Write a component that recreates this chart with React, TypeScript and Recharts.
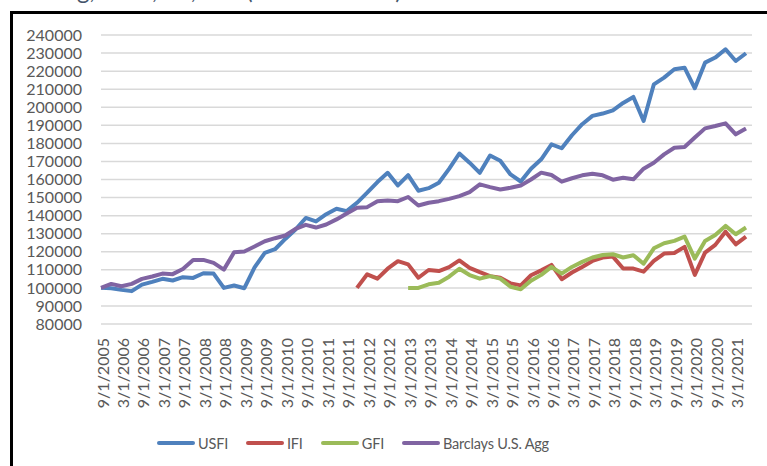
import React from 'react';
import { LineChart, Line, XAxis, YAxis, CartesianGrid } from 'recharts';

const dates = [
  '9/1/2005', '12/1/2005', '3/1/2006', '6/1/2006', '9/1/2006', '12/1/2006', '3/1/2007', '6/1/2007',
  '9/1/2007', '12/1/2007', '3/1/2008', '6/1/2008', '9/1/2008', '12/1/2008', '3/1/2009', '6/1/2009',
  '9/1/2009', '12/1/2009', '3/1/2010', '6/1/2010', '9/1/2010', '12/1/2010', '3/1/2011', '6/1/2011',
  '9/1/2011', '12/1/2011', '3/1/2012', '6/1/2012', '9/1/2012', '12/1/2012', '3/1/2013', '6/1/2013',
  '9/1/2013', '12/1/2013', '3/1/2014', '6/1/2014', '9/1/2014', '12/1/2014', '3/1/2015', '6/1/2015',
  '9/1/2015', '12/1/2015', '3/1/2016', '6/1/2016', '9/1/2016', '12/1/2016', '3/1/2017', '6/1/2017',
  '9/1/2017', '12/1/2017', '3/1/2018', '6/1/2018', '9/1/2018', '12/1/2018', '3/1/2019', '6/1/2019',
  '9/1/2019', '12/1/2019', '3/1/2020', '6/1/2020', '9/1/2020', '12/1/2020', '3/1/2021', '6/1/2021',
];

const usfi = [
  100000, 99800, 98900, 98200, 101800, 103300, 105000, 104100,
  105900, 105500, 108100, 107900, 100000, 101300, 99800, 111400,
  119400, 121400, 127100, 132300, 138700, 136800, 140800, 143800,
  142500, 147100, 152700, 158600, 163700, 156700, 162400, 153800,
  155200, 158200, 165900, 174400, 169300, 163700, 173300, 170400,
  162800, 158900, 166000, 171200, 179500, 177300, 184500, 190600,
  195200, 196500, 198300, 202400, 205700, 192400, 212700, 216400,
  221000, 221900, 210500, 224700, 227500, 232100, 225600, 229900,
];

const ifi = [
  null, null, null, null, null, null, null, null,
  null, null, null, null, null, null, null, null,
  null, null, null, null, null, null, null, null,
  null, 100000, 107500, 105100, 110600, 114800, 113000, 105600,
  109900, 109300, 111500, 115200, 111100, 108700, 106500, 105600,
  102500, 101400, 107000, 109700, 112700, 104800, 108500, 111600,
  114900, 116800, 117300, 110700, 110700, 109000, 114900, 119000,
  119300, 122700, 107200, 119500, 123800, 131100, 124100, 128400,
];

const gfi = [
  null, null, null, null, null, null, null, null,
  null, null, null, null, null, null, null, null,
  null, null, null, null, null, null, null, null,
  null, null, null, null, null, null, 100000, 100000,
  102000, 102800, 106200, 110600, 107100, 105100, 106500, 105100,
  100600, 99200, 104000, 107200, 111600, 107900, 111600, 114400,
  116800, 118200, 118600, 116800, 118100, 113400, 121900, 124700,
  126000, 128400, 116200, 126000, 129300, 134300, 129700, 133400,
];

const barclays = [
  100000, 102200, 100900, 102200, 105000, 106300, 107900, 107600,
  110500, 115500, 115500, 113800, 110100, 119700, 120100, 122900,
  125800, 127500, 129000, 132700, 134900, 133400, 135100, 137900,
  141200, 144400, 144700, 148000, 148400, 148000, 150300, 145600,
  147100, 148000, 149300, 150800, 153000, 157300, 155800, 154500,
  155400, 156700, 160000, 163800, 162500, 158800, 160700, 162300,
  163200, 162300, 159900, 161000, 160100, 166000, 169300, 173900,
  177600, 178000, 183200, 188300, 189600, 191100, 185000, 188200,
];

const yTicks = [
  80000, 90000, 100000, 110000, 120000, 130000, 140000, 150000, 160000,
  170000, 180000, 190000, 200000, 210000, 220000, 230000, 240000,
];

const series = [
  { key: 'USFI', name: 'USFI', color: '#4F81BD' },
  { key: 'IFI', name: 'IFI', color: '#C0504D' },
  { key: 'GFI', name: 'GFI', color: '#9BBB59' },
  { key: 'AGG', name: 'Barclays U.S. Agg', color: '#8064A2' },
];

const data = dates.map((d, i) => ({
  date: d,
  USFI: usfi[i],
  IFI: ifi[i],
  GFI: gfi[i],
  AGG: barclays[i],
}));

const FONT = 'Lato, "Open Sans", sans-serif';
const TEXT = '#595959';

const XTick = (props: any) => {
  const { x, y, payload } = props;
  return (
    <g transform={`translate(${x + 1},${y})`}>
      <text
        transform="rotate(-90)"
        textAnchor="end"
        dominantBaseline="central"
        fill={TEXT}
        fontSize={16}
        fontFamily={FONT}
      >
        {payload.value}
      </text>
    </g>
  );
};

export default function App() {
  return (
    <div style={{ position: 'absolute', left: 0, top: 0, width: 767, height: 466, overflow: 'hidden', background: '#fff' }}>
      <svg width={767} height={14} style={{ position: 'absolute', left: 0, top: 0 }}>
        <text x={0} y={-1} fontSize={24} fontFamily={FONT} fill="#44546A">
          Growing, USFI, IFI, GFI (Since 9/2005)
        </text>
      </svg>
      <div
        style={{
          position: 'absolute',
          left: 10,
          top: 11,
          width: 800,
          height: 500,
          border: '3px solid #000',
          boxSizing: 'border-box',
        }}
      />
      <div style={{ position: 'absolute', left: 0, top: 0 }}>
        <LineChart width={767} height={466} data={data} margin={{ top: 35, right: 15, left: 0, bottom: 0 }}>
          <CartesianGrid vertical={false} stroke="#D9D9D9" strokeWidth={1.5} />
          <XAxis
            dataKey="date"
            interval={1}
            tickLine={false}
            axisLine={false}
            tickSize={0}
            tickMargin={14}
            height={142}
            padding={{ left: 0, right: 6 }}
            tick={<XTick />}
          />
          <YAxis
            type="number"
            domain={[80000, 240000]}
            ticks={yTicks}
            interval={0}
            width={101}
            tickLine={false}
            axisLine={false}
            tickSize={0}
            tickMargin={19}
            tick={{ fill: TEXT, fontSize: 16, fontFamily: FONT }}
          />
          {series.map((s) => (
            <Line
              key={s.key}
              type="linear"
              dataKey={s.key}
              name={s.name}
              stroke={s.color}
              strokeWidth={4}
              dot={false}
              activeDot={false}
              strokeLinejoin="round"
              isAnimationActive={false}
            />
          ))}
        </LineChart>
      </div>
      <div
        style={{
          position: 'absolute',
          left: 157,
          top: 433,
          height: 20,
          display: 'flex',
          alignItems: 'center',
          fontFamily: FONT,
          fontSize: 14.5,
          letterSpacing: -0.2,
          color: TEXT,
          whiteSpace: 'nowrap',
        }}
      >
        {series.map((s) => (
          <div key={s.key} style={{ display: 'flex', alignItems: 'center', marginRight: 18 }}>
            <span style={{ display: 'inline-block', width: 38, height: 4, borderRadius: 2, background: s.color, marginRight: 3 }} />
            <span>{s.name}</span>
          </div>
        ))}
      </div>
    </div>
  );
}
